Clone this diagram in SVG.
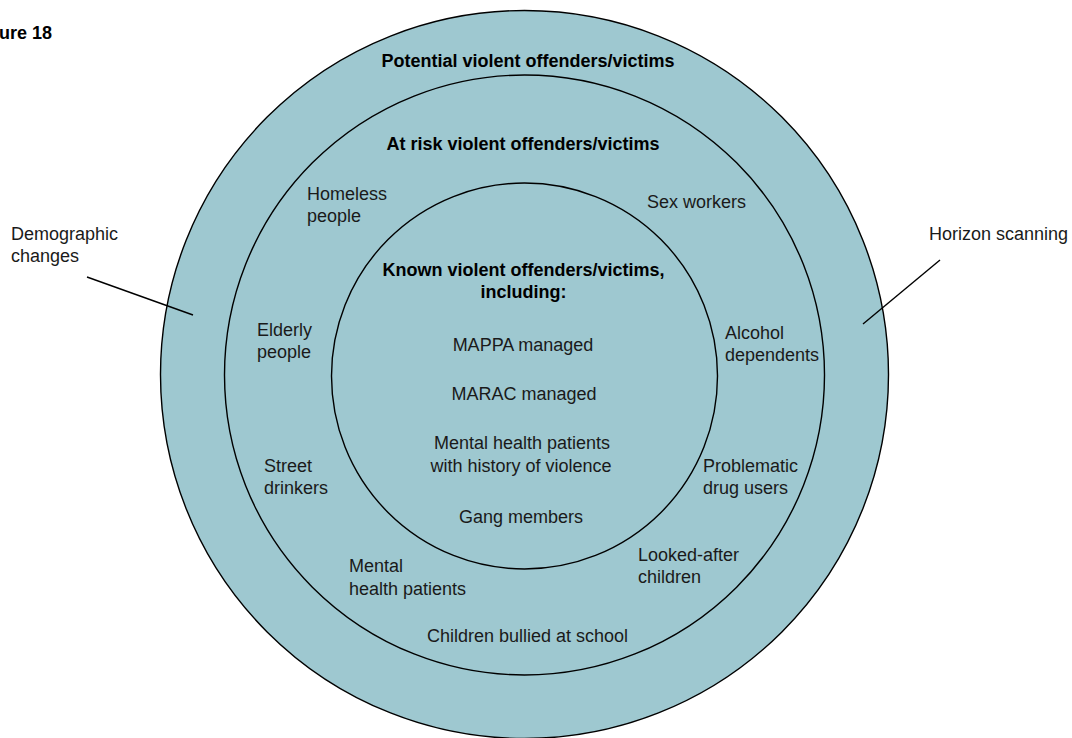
<svg xmlns="http://www.w3.org/2000/svg" width="1072" height="738" viewBox="0 0 1072 738">
<style>
.ring{fill:#9ec8d0;stroke:#000;stroke-width:1.4}
text{font-family:"Liberation Sans",Arial,sans-serif;font-size:18px;fill:#1a1a1a}
.b{font-weight:bold;fill:#000}
.c{text-anchor:middle}
.lead{stroke:#000;stroke-width:1.4;fill:none}
</style>
<rect width="1072" height="738" fill="#fff"/>
<g id="title"><text class="b" x="-1" y="39" font-size="16">ure 18</text></g>
<g id="ring-potential">
<circle class="ring" cx="524.5" cy="374.5" r="364"/>
<text class="b c" x="528" y="67">Potential violent offenders/victims</text>
</g>
<g id="ring-atrisk">
<circle class="ring" cx="524.5" cy="375" r="300"/>
<text class="b c" x="523" y="150">At risk violent offenders/victims</text>
</g>
<g id="ring-known">
<circle class="ring" cx="524.5" cy="376" r="193"/>
<text class="b c" x="523.5" y="276">Known violent offenders/victims,</text>
<text class="b c" x="523.5" y="298">including:</text>
</g>
<g id="homeless"><text x="307" y="200">Homeless</text><text x="307" y="222">people</text></g>
<g id="sex-workers"><text x="647" y="208">Sex workers</text></g>
<g id="elderly"><text x="257" y="336">Elderly</text><text x="257" y="358">people</text></g>
<g id="alcohol"><text x="725" y="339">Alcohol</text><text x="725" y="361">dependents</text></g>
<g id="street"><text x="264" y="472">Street</text><text x="264" y="494">drinkers</text></g>
<g id="drug"><text x="703" y="472">Problematic</text><text x="703" y="494">drug users</text></g>
<g id="looked-after"><text x="638" y="561">Looked-after</text><text x="638" y="583">children</text></g>
<g id="mental"><text x="349" y="572">Mental</text><text x="349" y="595">health patients</text></g>
<g id="bullied"><text class="c" x="527.5" y="642">Children bullied at school</text></g>
<g id="mappa"><text class="c" x="523" y="351">MAPPA managed</text></g>
<g id="marac"><text class="c" x="524" y="400">MARAC managed</text></g>
<g id="mh-violence"><text class="c" x="522" y="449">Mental health patients</text><text class="c" x="521" y="472">with history of violence</text></g>
<g id="gang"><text class="c" x="521" y="523">Gang members</text></g>
<g id="demographic"><text x="11" y="240">Demographic</text><text x="11" y="262">changes</text></g>
<g id="horizon"><text x="929" y="240">Horizon scanning</text></g>
<g id="connectors">
<line class="lead" x1="87" y1="277" x2="193" y2="315"/>
<line class="lead" x1="940" y1="260" x2="863" y2="324"/>
</g>
</svg>
